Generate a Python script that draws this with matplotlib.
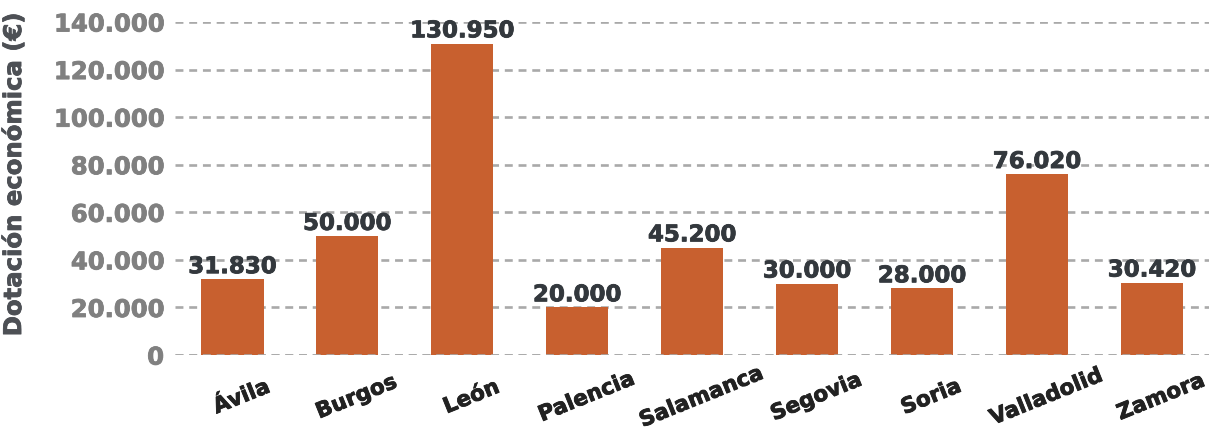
import matplotlib
matplotlib.use("Agg")
import matplotlib.pyplot as plt
import matplotlib.patheffects as pe
from matplotlib.transforms import ScaledTranslation
from matplotlib.ticker import FuncFormatter

provincias = ["Ávila", "Burgos", "León", "Palencia", "Salamanca",
              "Segovia", "Soria", "Valladolid", "Zamora"]
dotacion = [31830, 50000, 130950, 20000, 45200, 30000, 28000, 76020, 30420]
yticks = [0, 20000, 40000, 60000, 80000, 100000, 120000, 140000]


def miles(v):
    # Spanish thousands separator
    return f"{int(v):,}".replace(",", ".")


def heavy(color, w=0.6):
    # thicken DejaVu Bold a little to get closer to the black weight
    return [pe.withStroke(linewidth=w, foreground=color)]


plt.rcParams["font.family"] = ["DejaVu Sans"]

fig = plt.figure(figsize=(12.17, 4.4), dpi=100)
ax = fig.add_axes([0.1438, 0.193, 0.850, 0.757])

x = list(range(len(provincias)))
ax.bar(x, dotacion, width=0.54, color="#C8602F", zorder=2)

for xi, v in zip(x, dotacion):
    ax.text(xi, v + 500, miles(v), ha="center", va="bottom",
            fontsize=16.5, fontweight="bold", color="#33383d", zorder=3,
            path_effects=heavy("#33383d"))

ax.set_xlim(-0.5, len(provincias) - 0.5)
ax.set_ylim(0, 140000)
ax.set_yticks(yticks)
ax.yaxis.set_major_formatter(FuncFormatter(lambda v, p: miles(v)))
ax.set_xticks(x)
ax.set_xticklabels([])

# category labels: rotated, centred a little right of and below each bar
lab_tr = ax.get_xaxis_transform() + ScaledTranslation(9 / 100, -42 / 100,
                                                      fig.dpi_scale_trans)
for xi, name in zip(x, provincias):
    ax.text(xi, 0, name, transform=lab_tr, rotation=22, ha="center", va="center",
            fontsize=15.5, fontweight="bold", color="#222222",
            path_effects=heavy("#222222"), clip_on=False)

for lab in ax.get_yticklabels():
    lab.set_fontsize(17.5)
    lab.set_fontweight("bold")
    lab.set_color("#808080")
    lab.set_path_effects(heavy("#808080"))

ax.grid(axis="y", linestyle=(0, (3, 2.2)), color="#a9a9a9", linewidth=1.9, zorder=1)
ax.tick_params(axis="both", length=0)
ax.tick_params(axis="y", pad=8)
for s in ax.spines.values():
    s.set_visible(False)
ax.axhline(0, linestyle=(0, (3, 2.2)), color="#a9a9a9", linewidth=1.9, zorder=3)

ax.set_ylabel("Dotación económica (€)", fontsize=17.5, fontweight="bold",
              color="#4d5055", path_effects=heavy("#4d5055"))
ax.yaxis.set_label_coords(-0.144, 0.54)

fig.savefig("out.png", dpi=100)
